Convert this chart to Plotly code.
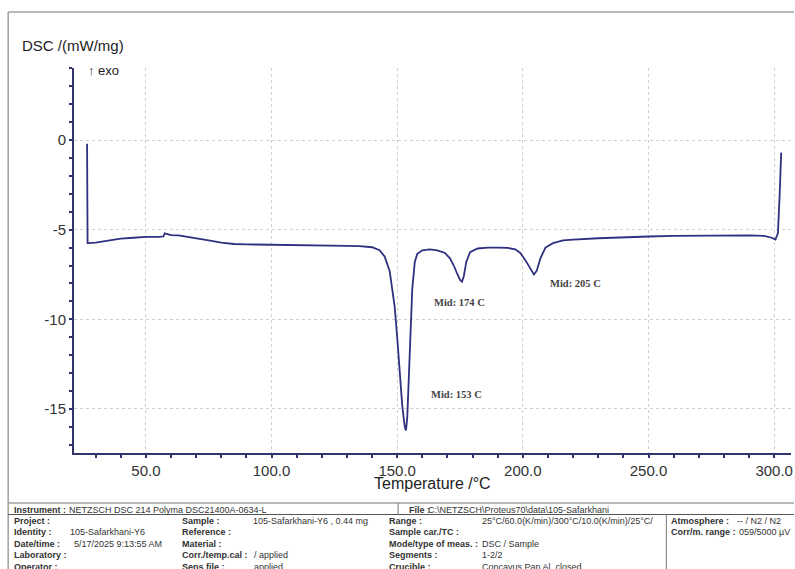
import plotly.graph_objects as go

# ---------------- data ----------------
temperature_c = [26.6, 26.8, 30, 35, 40, 45, 50, 55, 57, 57.5, 58.5, 60, 63, 67, 71, 75, 80, 85, 90,
                 100, 110, 120, 130, 135, 140, 143, 145, 147, 148, 149, 150, 151, 152, 153, 153.5,
                 154, 155, 156, 157, 158, 160, 163, 166, 169, 171, 172.5, 174, 175, 175.8, 176.5,
                 177.5, 179, 182, 186, 190, 194, 197, 199, 201, 203, 204.4, 205.5, 207, 209, 212,
                 216, 220, 230, 240, 250, 260, 270, 280, 290, 296, 299, 300.5, 301.5, 302.2, 302.8]
dsc_mw_mg = [-0.2, -5.75, -5.72, -5.6, -5.5, -5.45, -5.4, -5.4, -5.38, -5.2, -5.25, -5.3, -5.32, -5.4,
             -5.5, -5.6, -5.72, -5.8, -5.82, -5.83, -5.85, -5.87, -5.9, -5.92, -5.98, -6.15, -6.5,
             -7.3, -8.2, -9.3, -11.0, -13.0, -14.8, -16.0, -16.2, -15.5, -11.5, -8.3, -6.8, -6.35,
             -6.15, -6.1, -6.15, -6.3, -6.6, -7.0, -7.5, -7.8, -7.9, -7.6, -6.8, -6.25, -6.05, -6.0,
             -6.0, -6.02, -6.1, -6.3, -6.7, -7.2, -7.5, -7.3, -6.6, -6.0, -5.75, -5.6, -5.55, -5.48,
             -5.42, -5.38, -5.35, -5.33, -5.32, -5.32, -5.35, -5.45, -5.55, -5.2, -3.0, -0.7]

peak_labels = ["Mid: 153 C", "Mid: 174 C", "Mid: 205 C"]
peak_label_x = [162.7, 163.9, 209.9]
peak_label_y = [-14.22, -9.09, -8.03]

x_tickvals = [50, 100, 150, 200, 250, 300]
x_ticktext = ["50.0", "100.0", "150.0", "200.0", "250.0", "300.0"]
y_tickvals = [0, -5, -10, -15]
y_ticktext = ["0", "-5", "-10", "-15"]

info_rows = [
    # (x_px, y_px, text, bold)
    (12, 510, "Instrument :", True), (67, 510, "NETZSCH DSC 214 Polyma DSC21400A-0634-L", False),
    (408, 510, "File :", True), (427, 510, "C:\\NETZSCH\\Proteus70\\data\\105-Safarkhani", False),
    (12, 521, "Project :", True),
    (12, 532, "Identity :", True), (68, 532, "105-Safarkhani-Y6", False),
    (12, 543.5, "Date/time :", True), (72, 543.5, "5/17/2025 9:13:55 AM", False),
    (12, 555, "Laboratory :", True),
    (12, 566.5, "Operator :", True),
    (180, 521, "Sample :", True), (251, 521, "105-Safarkhani-Y6 , 0.44 mg", False),
    (180, 532, "Reference :", True),
    (180, 543.5, "Material :", True),
    (180, 555, "Corr./temp.cal :", True), (252, 555, "/ applied", False),
    (180, 566.5, "Sens file :", True), (252, 566.5, "applied", False),
    (388, 521, "Range :", True), (481, 521, "25°C/60.0(K/min)/300°C/10.0(K/min)/25°C/", False),
    (388, 532, "Sample car./TC :", True),
    (388, 543.5, "Mode/type of meas. :", True), (481, 543.5, "DSC / Sample", False),
    (388, 555, "Segments :", True), (481, 555, "1-2/2", False),
    (388, 566.5, "Crucible :", True), (481, 566.5, "Concavus Pan Al, closed", False),
    (671, 521, "Atmosphere :", True), (737, 521, "-- / N2 / N2", False),
    (671, 532, "Corr/m. range :", True), (739, 532, "059/5000 µV", False),
]

# ---------------- layout helpers ----------------
W, H = 795, 569
L, R, T, B = 74, 2, 68, 116
PW, PH = W - L - R, H - T - B


def px(x):
    return (x - L) / PW


def py(y):
    return (H - B - y) / PH


AXIS = "#33346b"
LINE = "#2f3080"

fig = go.Figure()
fig.add_trace(go.Scatter(x=temperature_c, y=dsc_mw_mg, mode="lines",
                         line=dict(color=LINE, width=1.8), hoverinfo="skip", showlegend=False))

for t, xx, yy in zip(peak_labels, peak_label_x, peak_label_y):
    fig.add_annotation(x=xx, y=yy, xref="x", yref="y", text=f"<b>{t}</b>", showarrow=False,
                       xanchor="left", yanchor="middle",
                       font=dict(family="Liberation Serif, serif", size=10.5, color="#444444"))

fig.add_annotation(x=px(20), y=py(45), xref="paper", yref="paper", text="DSC /(mW/mg)",
                   showarrow=False, xanchor="left", yanchor="middle",
                   font=dict(family="Liberation Sans, Arial", size=15, color="#222222"))
fig.add_annotation(x=px(86), y=py(70), xref="paper", yref="paper", text="↑ exo",
                   showarrow=False, xanchor="left", yanchor="middle",
                   font=dict(family="Liberation Sans, Arial", size=13, color="#222222"))
fig.add_annotation(x=px(434), y=py(483), xref="paper", yref="paper", text="Temperature /°C",
                   showarrow=False, xanchor="center", yanchor="middle",
                   font=dict(family="Liberation Sans, Arial", size=16, color="#222222"))

for (xx, yy, t, bold) in info_rows:
    fig.add_annotation(x=px(xx), y=py(yy), xref="paper", yref="paper",
                       text=f"<b>{t}</b>" if bold else t, showarrow=False,
                       xanchor="left", yanchor="middle",
                       font=dict(family="Liberation Sans, Arial", size=9, color="#333333"))

frame = "#a0a0a0"
shapes = [
    dict(type="line", xref="paper", yref="paper", x0=px(8), x1=px(796), y0=py(12), y1=py(12),
         line=dict(color=frame, width=1.5)),
    dict(type="line", xref="paper", yref="paper", x0=px(8), x1=px(8), y0=py(12), y1=py(570),
         line=dict(color=frame, width=1.5)),
    dict(type="line", xref="paper", yref="paper", x0=px(8), x1=px(796), y0=py(503), y1=py(503),
         line=dict(color=frame, width=1.5)),
    dict(type="line", xref="paper", yref="paper", x0=px(8), x1=px(796), y0=py(514.5), y1=py(514.5),
         line=dict(color="#555555", width=1)),
    dict(type="line", xref="paper", yref="paper", x0=px(399), x1=px(399), y0=py(503), y1=py(514.5),
         line=dict(color="#777777", width=1)),
    dict(type="line", xref="paper", yref="paper", x0=px(668), x1=px(668), y0=py(514.5), y1=py(570),
         line=dict(color="#777777", width=1)),
]

fig.update_layout(
    width=W, height=H,
    margin=dict(l=L, r=R, t=T, b=B),
    paper_bgcolor="white", plot_bgcolor="white",
    shapes=shapes,
    font=dict(family="Liberation Sans, Arial", color="#333333"),
    xaxis=dict(range=[21.4, 306.7], tickvals=x_tickvals, ticktext=x_ticktext,
               showline=True, linecolor=AXIS, linewidth=2,
               ticks="outside", ticklen=3, tickcolor=AXIS, tickwidth=1.5,
               minor=dict(dtick=10, tick0=0, ticks="outside", ticklen=3, tickcolor=AXIS,
                          showgrid=False),
               showgrid=True, gridcolor="#cfcfcf", griddash="dot", gridwidth=1,
               zeroline=False, tickfont=dict(size=15, color="#333333")),
    yaxis=dict(range=[-17.46, 4.02], tickvals=y_tickvals, ticktext=y_ticktext,
               showline=True, linecolor=AXIS, linewidth=2,
               ticks="outside", ticklen=3, tickcolor=AXIS, tickwidth=1.5,
               minor=dict(dtick=1, tick0=0, ticks="outside", ticklen=3, tickcolor=AXIS,
                          showgrid=False),
               showgrid=True, gridcolor="#cfcfcf", griddash="dot", gridwidth=1,
               zeroline=False, tickfont=dict(size=15, color="#333333")),
)

fig.write_html("out.html", config={"displayModeBar": False},
               post_script="document.body.style.margin='0';document.body.style.overflow='hidden';")
